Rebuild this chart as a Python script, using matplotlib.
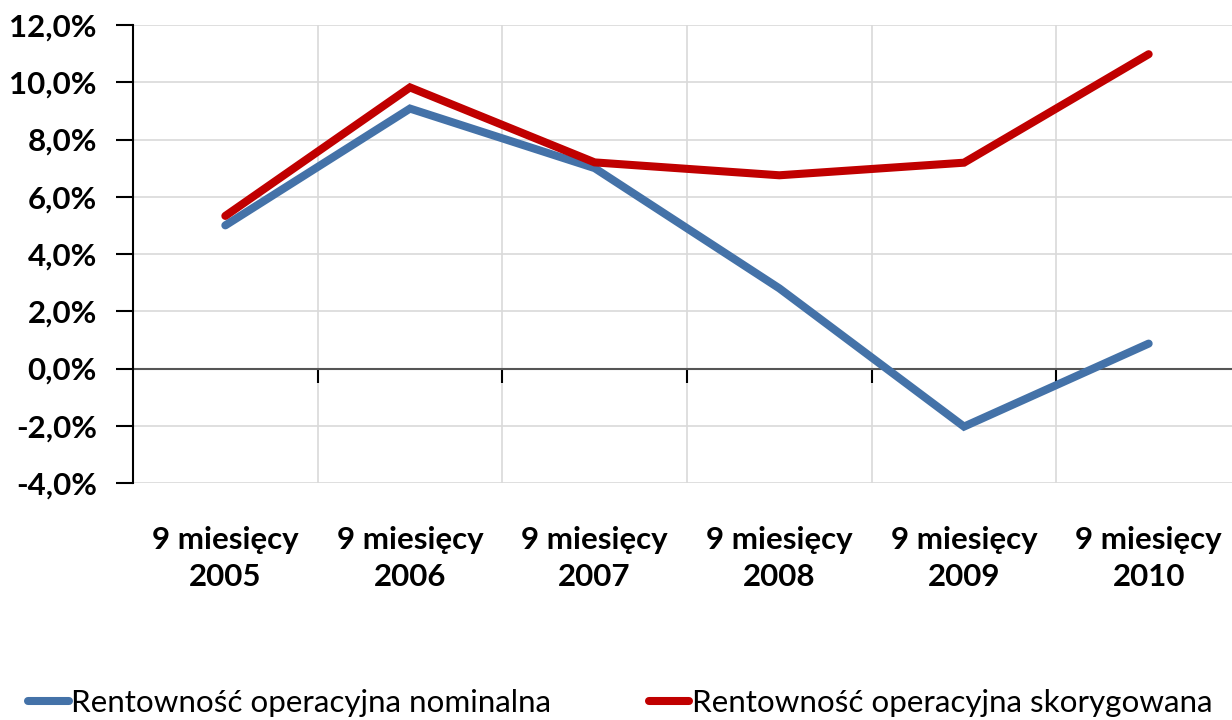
import matplotlib
matplotlib.use("Agg")
import matplotlib.pyplot as plt
from matplotlib.ticker import FuncFormatter, MultipleLocator, FixedLocator

plt.rcParams['font.family'] = ['Lato', 'DejaVu Sans']

categories = ["9 miesięcy\n2005", "9 miesięcy\n2006", "9 miesięcy\n2007",
              "9 miesięcy\n2008", "9 miesięcy\n2009", "9 miesięcy\n2010"]
nominalna = [5.0, 9.08, 7.0, 2.8, -2.03, 0.87]
skorygowana = [5.33, 9.82, 7.2, 6.75, 7.19, 10.98]
series_names = ["Rentowność operacyjna nominalna", "Rentowność operacyjna skorygowana"]
colors = ["#4472A8", "#C00000"]

W, H = 1232, 720
fig = plt.figure(figsize=(W / 100, H / 100), dpi=100)
ax = fig.add_axes([133 / W, 1 - 483 / H, (1241 - 133) / W, (483 - 25) / H])

x = list(range(len(categories)))
l1, = ax.plot(x, nominalna, color=colors[0], lw=5.8, solid_capstyle='round', solid_joinstyle='miter', zorder=3)
l2, = ax.plot(x, skorygowana, color=colors[1], lw=5.8, solid_capstyle='round', solid_joinstyle='miter', zorder=4)

ax.set_xlim(-0.5, len(categories) - 0.5)
ax.set_ylim(-4, 12)
ax.yaxis.set_major_locator(MultipleLocator(2))
ax.yaxis.set_major_formatter(FuncFormatter(lambda v, p: f"{v:.1f}%".replace('.', ',')))
ax.grid(axis='y', color='#D9D9D9', lw=1.2, zorder=0)

bounds = [i + 0.5 for i in range(len(categories))]
for b in bounds:
    ax.axvline(b, color='#D9D9D9', lw=1.2, zorder=0)

for s in ['top', 'right']:
    ax.spines[s].set_visible(False)
ax.spines['left'].set_color('black')
ax.spines['left'].set_linewidth(1.5)
ax.spines['bottom'].set_position(('data', 0))
ax.spines['bottom'].set_color('#555555')
ax.spines['bottom'].set_linewidth(1.5)
ax.spines['bottom'].set_zorder(2)

ax.xaxis.set_major_locator(FixedLocator(bounds[:-1]))
ax.tick_params(axis='x', direction='out', length=10, width=1.5, color='black', labelbottom=False)
ax.tick_params(axis='y', direction='out', length=12, width=1.5, color='black', pad=14,
               labelsize=22.5)
for t in ax.get_yticklabels():
    t.set_fontweight('bold')

for i, c in enumerate(categories):
    ax.annotate(c, xy=(i, 0), xycoords=('data', 'axes fraction'), xytext=(0, -43),
                textcoords='offset pixels', ha='center', va='top', fontsize=22.5,
                fontweight='bold', linespacing=1.38)

fig.legend([l1, l2], series_names, loc='center left', bbox_to_anchor=(28 / W, 1 - 703 / H),
           ncol=2, frameon=False, fontsize=22.6, handlelength=1.3, handletextpad=0.08,
           columnspacing=3.1, borderaxespad=0, borderpad=0)

fig.savefig("out.png", dpi=100)
